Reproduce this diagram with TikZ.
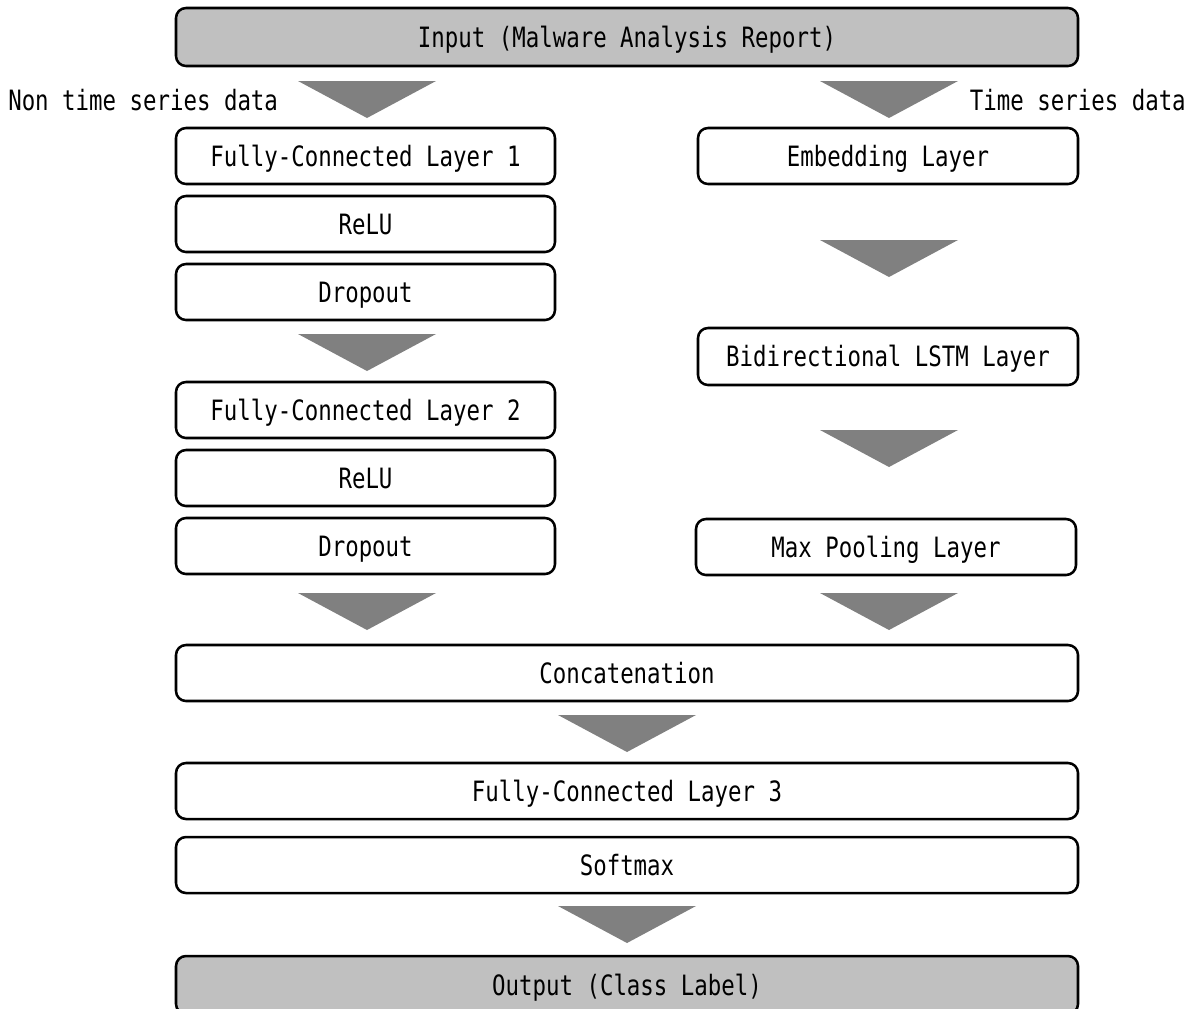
\documentclass[tikz,border=0pt]{standalone}
\usepackage{fontspec}
\newfontfamily\gothic[FakeStretch=0.8]{DejaVu Sans Mono}
\definecolor{boxgray}{HTML}{C0C0C0}
\definecolor{arrowgray}{HTML}{808080}
\begin{document}
\begin{tikzpicture}[x=0.75pt,y=-0.75pt,
  every node/.style={font=\gothic\fontsize{21}{24}\selectfont},
  layer/.style={draw=black,line width=1.9pt,rounded corners=7.5pt,fill=white,
    minimum height=56*0.75pt,inner sep=0pt,text height=15.3pt,text depth=0pt},
  narrow/.style={layer,minimum width=379*0.75pt},
  wide/.style={layer,minimum width=902*0.75pt},
  io/.style={wide,fill=boxgray,minimum height=58*0.75pt},
  flow/.pic={\fill[arrowgray] (-69,0) -- (69,0) -- (0,37) -- cycle;}
]
\useasboundingbox (0,0) rectangle (1195,1008);

% input
\node[io] (in) at (627,37) {Input (Malware Analysis Report)};
\node[anchor=west,inner sep=0pt] (nts) at (8,100) {Non time series data};
\node[anchor=east,inner sep=0pt] (ts) at (1186,100) {Time series data};
\pic at (367,81) {flow};
\pic at (889,81) {flow};

% non time series branch
\node[narrow] (fc1) at (365.5,156) {Fully-Connected Layer 1};
\node[narrow] (relu1) at (365.5,224) {ReLU};
\node[narrow] (drop1) at (365.5,292) {Dropout};
\pic at (367,334) {flow};
\node[narrow] (fc2) at (365.5,410) {Fully-Connected Layer 2};
\node[narrow] (relu2) at (365.5,478) {ReLU};
\node[narrow] (drop2) at (365.5,546) {Dropout};
\pic at (367,593) {flow};

% time series branch
\node[narrow,minimum width=380*0.75pt] (emb) at (888,156) {Embedding Layer};
\pic at (889,240) {flow};
\node[narrow,minimum width=380*0.75pt,minimum height=57*0.75pt] (lstm) at (888,356.5) {Bidirectional LSTM Layer};
\pic at (889,430) {flow};
\node[narrow,minimum width=380*0.75pt] (pool) at (886,547) {Max Pooling Layer};
\pic at (889,593) {flow};

% merged part
\node[wide] (cat) at (627,673) {Concatenation};
\pic at (627,715) {flow};
\node[wide] (fc3) at (627,791) {Fully-Connected Layer 3};
\node[wide] (soft) at (627,865) {Softmax};
\pic at (627,906) {flow};
\node[io] (out) at (627,985) {Output (Class Label)};
\end{tikzpicture}
\end{document}
